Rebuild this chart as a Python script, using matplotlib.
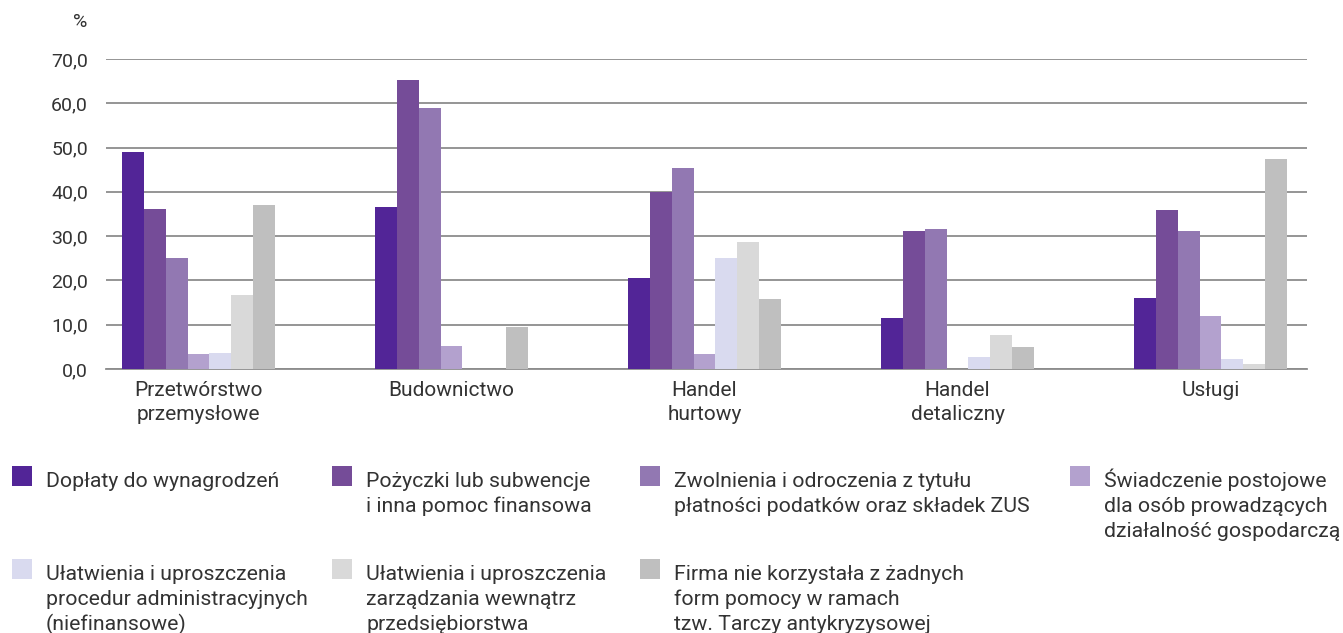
import matplotlib
matplotlib.use("Agg")
import matplotlib.pyplot as plt
import numpy as np
from matplotlib.patches import Rectangle

plt.rcParams['font.family'] = ['Roboto', 'DejaVu Sans']

categories = ["Przetwórstwo\nprzemysłowe", "Budownictwo", "Handel\nhurtowy", "Handel\ndetaliczny", "Usługi"]
series_labels = [
    "Dopłaty do wynagrodzeń",
    "Pożyczki lub subwencje\ni inna pomoc finansowa",
    "Zwolnienia i odroczenia z tytułu\npłatności podatków oraz składek ZUS",
    "Świadczenie postojowe\ndla osób prowadzących\ndziałalność gospodarczą",
    "Ułatwienia i uproszczenia\nprocedur administracyjnych\n(niefinansowe)",
    "Ułatwienia i uproszczenia\nzarządzania wewnątrz\nprzedsiębiorstwa",
    "Firma nie korzystała z żadnych\nform pomocy w ramach\ntzw. Tarczy antykryzysowej",
]
dopłaty = [49.0, 36.6, 20.5, 11.5, 16.0]
pozyczki = [36.1, 65.2, 40.0, 31.2, 35.9]
zwolnienia = [25.1, 58.9, 45.4, 31.6, 31.2]
postojowe = [3.4, 5.2, 3.4, 0.0, 12.0]
ulatw_admin = [3.6, 0.0, 25.1, 2.7, 2.3]
ulatw_zarz = [16.7, 0.0, 28.7, 7.6, 1.1]
brak_pomocy = [37.0, 9.5, 15.8, 5.0, 47.4]
series = [dopłaty, pozyczki, zwolnienia, postojowe, ulatw_admin, ulatw_zarz, brak_pomocy]
colors = ["#522597", "#754C98", "#9278B2", "#B3A1CE", "#D9DAEF", "#D9D9D9", "#BFBFBF"]

W, H = 1343, 633
fig = plt.figure(figsize=(W / 100, H / 100), dpi=100)
ax = fig.add_axes([106 / W, (H - 369) / H, (1307 - 106) / W, (369 - 59) / H])

x = np.arange(len(categories))
bw = 21.9 / 253
n = len(series)
for i, (vals, c) in enumerate(zip(series, colors)):
    ax.bar(x + (i - (n - 1) / 2) * bw, vals, width=bw, color=c, linewidth=0, zorder=3)

ax.set_xlim((106 - 198.5) / 253, (1307 - 198.5) / 253)
ax.set_ylim(0, 70)
ax.set_yticks(np.arange(0, 71, 10))
ax.set_yticklabels([f"{v:.1f}".replace('.', ',') for v in np.arange(0, 71, 10)])
ax.set_xticks(x)
ax.set_xticklabels(categories, linespacing=1.3)
ax.tick_params(axis='both', length=0, colors='#333333')
ax.tick_params(axis='y', pad=13, labelsize=14)
ax.tick_params(axis='x', pad=9, labelsize=15)
ax.yaxis.grid(True, color='#8c8c8c', linewidth=1.3, zorder=0)
ax.set_axisbelow(True)
for s in ['top', 'right', 'left']:
    ax.spines[s].set_visible(False)
ax.spines['bottom'].set_color('#8c8c8c')
ax.spines['bottom'].set_linewidth(1.3)

fig.text(80 / W, 1 - 22 / H, "%", ha='center', va='center', fontsize=14, color='#333333')

# legend
positions = [(12, 466), (332, 466), (640, 466), (1070, 466),
             (12, 559), (332, 559), (640, 559)]
for (px, py), lab, c in zip(positions, series_labels, colors):
    fig.patches.append(Rectangle((px / W, 1 - (py + 20) / H), 20 / W, 20 / H,
                                 transform=fig.transFigure, color=c, linewidth=0))
    for k, line in enumerate(lab.split("\n")):
        fig.text((px + 34) / W, 1 - (py + 21 + 25 * k) / H, line, ha='left', va='baseline',
                 fontsize=15.3, color='#333333')

fig.savefig("out.png", dpi=100)
